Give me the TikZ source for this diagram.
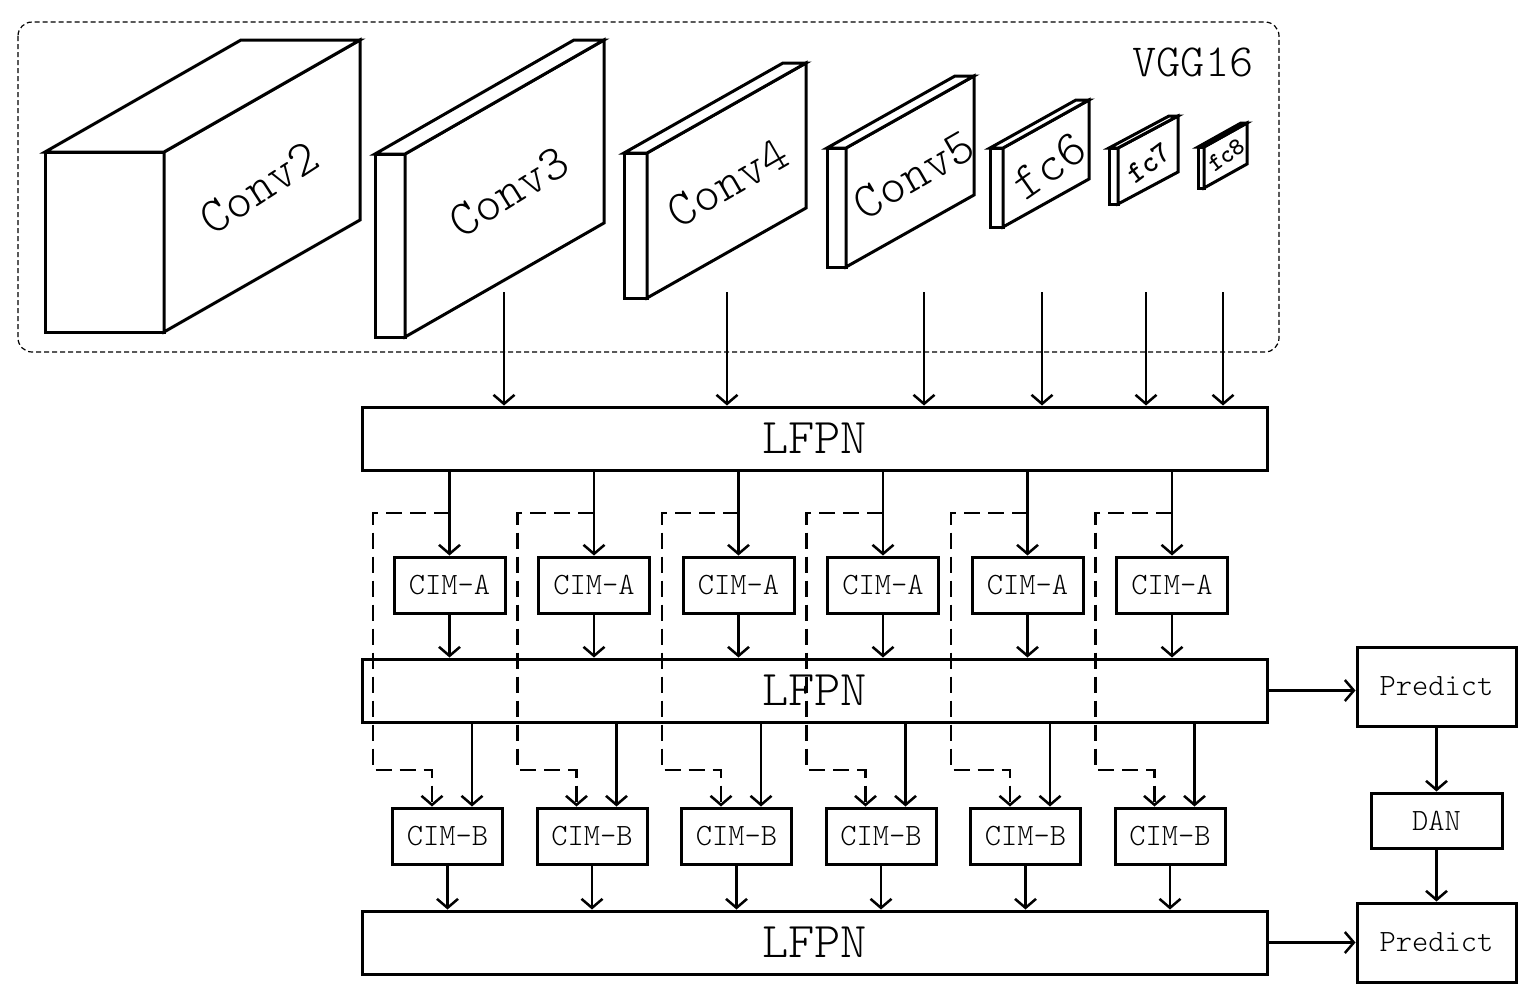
\documentclass[tikz,border=0pt]{standalone}
\usetikzlibrary{arrows.meta,positioning}
\newcommand{\labelfont}[1]{\ttfamily\fontseries{l}\fontsize{#1}{#1}\selectfont}
% front top-left x, y, width, height, depth dx, depth dy
\newcommand{\convblock}[6]{%
  \draw[block] (#1,#2) rectangle ++(#3,#4);
  \draw[block] (#1+#3,#2) -- ++(#5,-#6) -- ++(0,#4) -- ++(-#5,#6) -- cycle;
  \draw[block] (#1,#2) -- ++(#5,-#6) -- ++(#3,0) -- ++(-#5,#6) -- cycle;
}
\tikzset{
  >={Straight Barb[length=9pt,width=21pt]},
  block/.style={draw=black, line width=3pt, fill=white, line join=miter},
  frame/.style={draw=black, line width=1.2pt, dash pattern=on 5pt off 3pt, rounded corners=14pt},
  lfpn/.style={
    rectangle, draw, line width=3pt,
    minimum width=905pt, minimum height=63pt, inner sep=0pt,
    font=\labelfont{50}
  },
  cim/.style={
    rectangle, draw, line width=3pt,
    minimum width=111pt, minimum height=56pt, inner sep=0pt,
    font=\labelfont{31}
  },
  predict/.style={cim, minimum width=159pt, minimum height=79pt},
  layerlabel/.style={inner sep=0pt, font=\labelfont{50}},
  arrow/.style={->, line width=2.5pt},
  dasharrow/.style={arrow, dash pattern=on 16pt off 8pt},
}
\begin{document}
\begin{tikzpicture}[x=1pt, y=-1pt]
\useasboundingbox (0,0) rectangle (1537,1002);
% --- VGG16 backbone ---
\draw[frame] (18,22) rectangle (1279,352);
\node[inner sep=0pt, font=\labelfont{46}] (vgg) at (1193,62) {VGG16};
\convblock{45}{152}{119}{180}{196}{112}
\convblock{375}{154}{30}{183}{199}{114}
\convblock{624}{153}{23}{145}{159}{90}
\convblock{827}{148}{19}{119}{128}{72}
\convblock{990}{148}{13}{79}{86}{48}
\convblock{1109}{148}{9}{56}{60}{32}
\convblock{1198}{147}{6}{41}{43}{24}
\node[layerlabel, rotate=33] (conv2) at (259,188) {Conv2};
\node[layerlabel, rotate=32] (conv3) at (509,192) {Conv3};
\node[layerlabel, rotate=30] (conv4) at (728,183) {Conv4};
\node[layerlabel, rotate=30] (conv5) at (914,175) {Conv5};
\node[layerlabel, rotate=35] (fc6) at (1049,166) {fc6};
\node[layerlabel, rotate=37, font=\ttfamily\bfseries\fontsize{30}{30}\selectfont] (fc7) at (1149,163) {fc7};
\node[layerlabel, rotate=37, font=\ttfamily\bfseries\fontsize{25}{25}\selectfont] (fc8) at (1226,155) {fc8};
% --- Pyramid levels ---
\node[lfpn] (lfpn1) at (814.5,438.5) {LFPN};
\node[lfpn] (lfpn2) at (814.5,690.5) {LFPN};
\node[lfpn] (lfpn3) at (814.5,942.5) {LFPN};
\node[predict, right=87pt of lfpn2, yshift=4pt] (pred1) {Predict};
\node[cim, minimum width=131pt, minimum height=55pt, below=64pt of pred1] (dan) {DAN};
\node[predict, below=52pt of dan] (pred2) {Predict};
% --- CIM modules ---
\foreach \i in {1,...,6} {
  \pgfmathsetmacro\xa{449.5+144.5*(\i-1)}
  \pgfmathsetmacro\xb{447.5+144.5*(\i-1)}
  \node[cim] (cima\i) at (\xa,585) {CIM-A};
  \node[cim, minimum width=110pt] (cimb\i) at (\xb,836) {CIM-B};
}
% --- Arrows ---
\foreach \x [count=\i] in {504,727,924,1042,1146,1223} {
  \coordinate (out\i) at (\x,292);
  \draw[arrow] (out\i) -- (out\i |- lfpn1.north);
}
\foreach \i in {1,...,6} {
  \draw[arrow] (cima\i |- lfpn1.south) -- (cima\i.north);
  \draw[arrow] (cima\i.south) -- (cima\i.south |- lfpn2.north);
  \draw[arrow] ([xshift=24.5pt]cimb\i.north |- lfpn2.south) -- ([xshift=24.5pt]cimb\i.north);
  \draw[arrow] (cimb\i.south) -- (cimb\i.south |- lfpn3.north);
  \draw[dasharrow] (cima\i |- 0,513) -| ++(-76.5,257) -| ([xshift=-15.5pt]cimb\i.north);
}
\draw[arrow] (lfpn2.east) -- (lfpn2.east -| pred1.west);
\draw[arrow] (pred1) -- (dan);
\draw[arrow] (dan) -- (pred2);
\draw[arrow] (lfpn3.east) -- (lfpn3.east -| pred2.west);
\end{tikzpicture}
\end{document}
